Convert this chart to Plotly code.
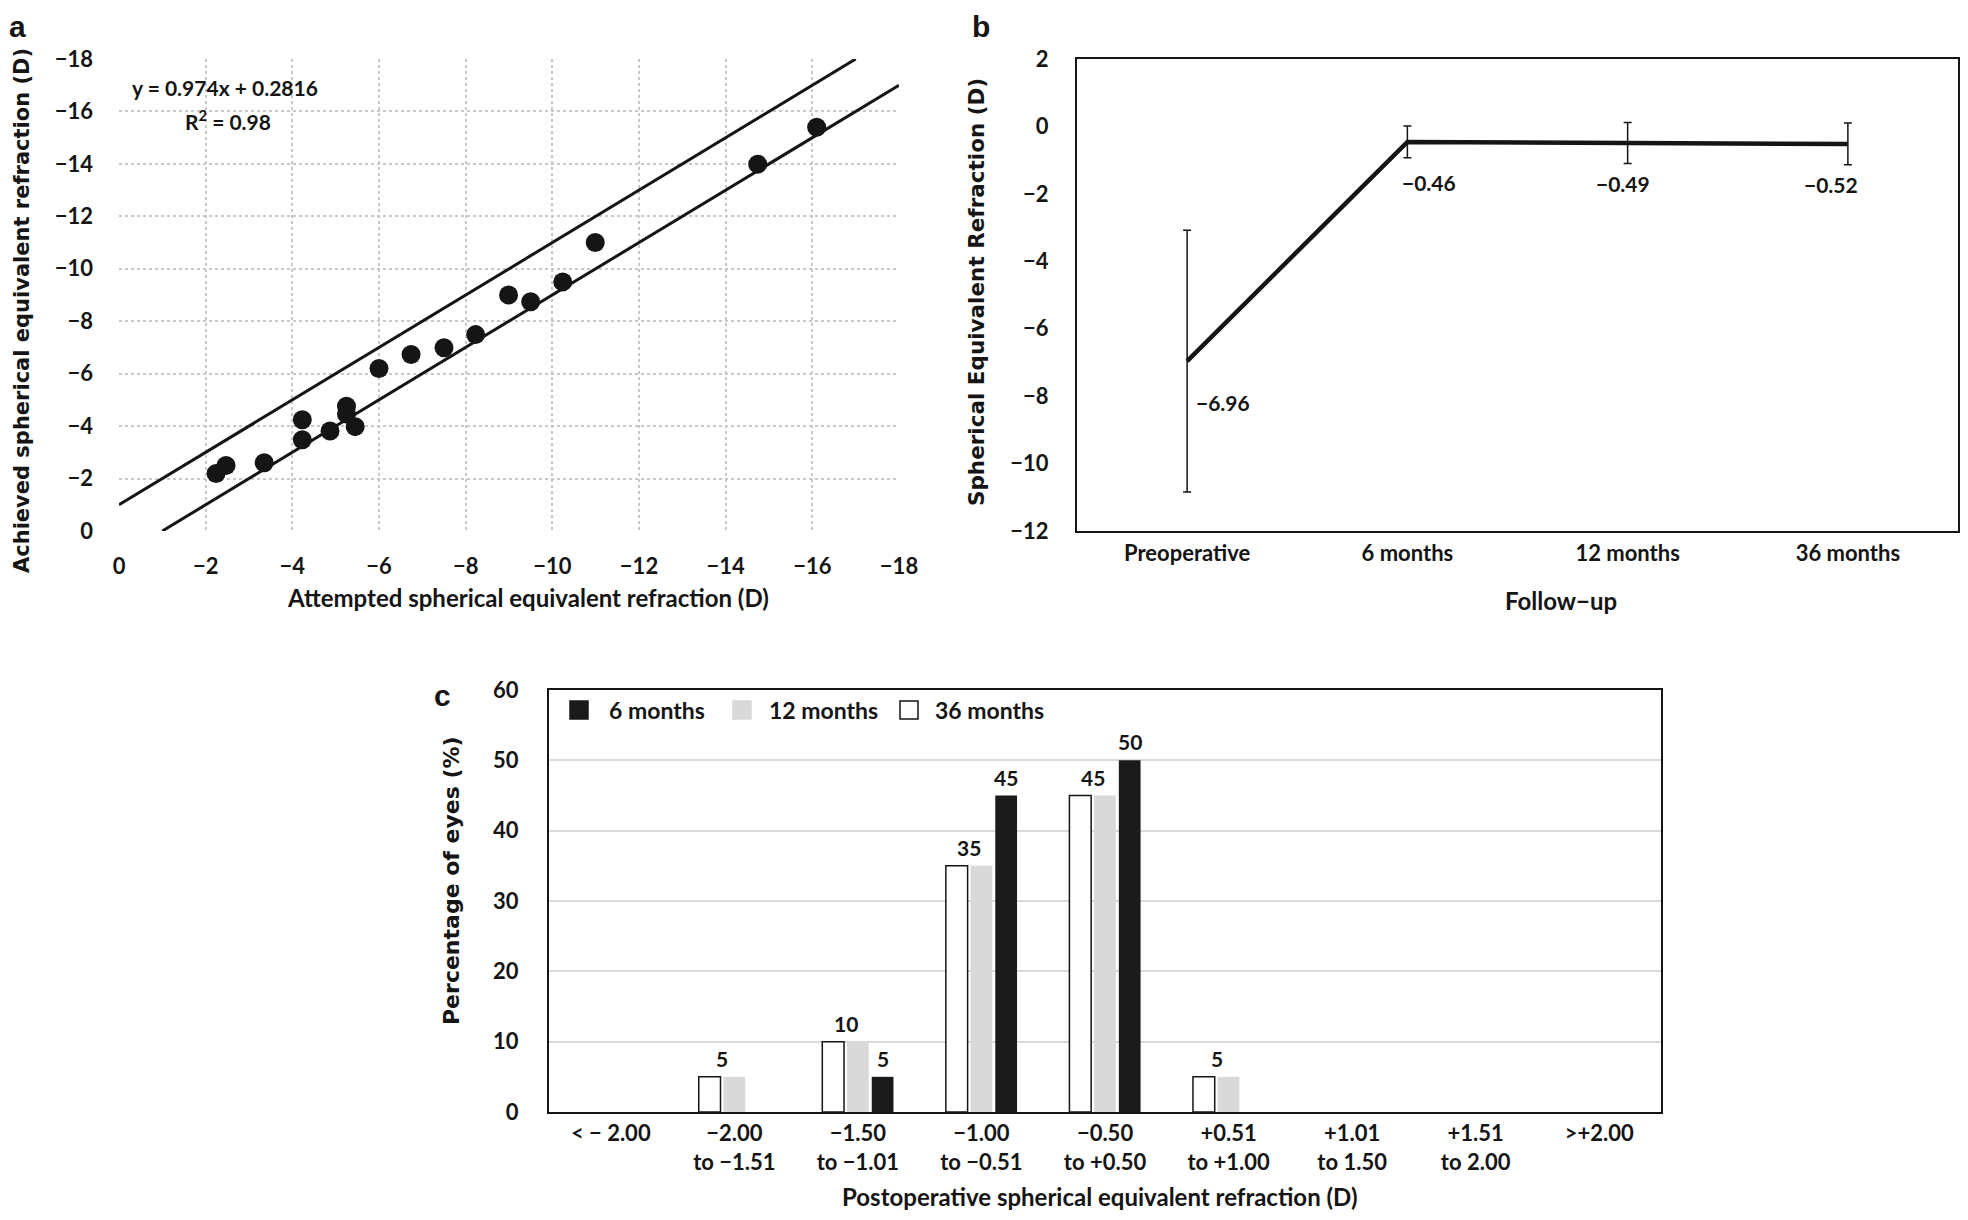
import plotly.graph_objects as go

# --- panel a: attempted vs achieved spherical equivalent (D)
attempted = [-2.24, -2.47, -3.35, -4.23, -4.23, -4.87, -5.25, -5.25, -5.45, -6.0,
             -6.74, -7.5, -8.23, -8.99, -9.5, -10.24, -10.99, -14.74, -16.1]
achieved = [-2.19, -2.5, -2.6, -4.24, -3.48, -3.81, -4.76, -4.46, -3.98, -6.2,
            -6.73, -6.99, -7.49, -9.0, -8.74, -9.5, -11.0, -13.99, -15.4]
# +/- 1 D limit lines
upper_x = [0, -17]
upper_y = [-1, -18]
lower_x = [-1, -18]
lower_y = [0, -17]

# --- panel b: SE over follow-up
followup = ['Preoperative', '6 months', '12 months', '36 months']
se_mean = [-6.96, -0.46, -0.49, -0.52]
se_sd = [3.88, 0.47, 0.61, 0.62]

# --- panel c: distribution of postoperative SE
se_bins = ['< − 2.00', '−2.00<br>to −1.51', '−1.50<br>to −1.01', '−1.00<br>to −0.51',
           '−0.50<br>to +0.50', '+0.51<br>to +1.00', '+1.01<br>to 1.50', '+1.51<br>to 2.00',
           '>+2.00']
pct_36m = [0, 5, 10, 35, 45, 5, 0, 0, 0]
pct_12m = [0, 5, 10, 35, 45, 5, 0, 0, 0]
pct_6m = [0, 0, 5, 45, 50, 0, 0, 0, 0]

# page is shifted by the 8px body margin
W, H = 1952, 1204
def px(x):
    return min(max((x - 8) / W, 0), 1)
def py(y):
    return min(max(1 - (y - 8) / H, 0), 1)

FONT = 'Lato, Open Sans, sans-serif'
WIDE = 'DejaVu Sans, Verdana, sans-serif'
INK = '#151515'
tick = dict(family=FONT, size=22, color=INK, weight='bold')
label_font = dict(family=FONT, size=21, color=INK, weight='bold')
title_font = dict(family=FONT, size=24, color=INK, weight='bold')
wide_title = dict(family=WIDE, size=21.5, color=INK, weight='bold')

fig = go.Figure()

# a
fig.add_trace(go.Scatter(x=upper_x, y=upper_y, mode='lines', line=dict(color=INK, width=3),
                         xaxis='x', yaxis='y', showlegend=False))
fig.add_trace(go.Scatter(x=lower_x, y=lower_y, mode='lines', line=dict(color=INK, width=3),
                         xaxis='x', yaxis='y', showlegend=False))
fig.add_trace(go.Scatter(x=attempted, y=achieved, mode='markers',
                         marker=dict(color=INK, size=19), xaxis='x', yaxis='y', showlegend=False))

# b
fig.add_trace(go.Scatter(x=followup, y=se_mean, mode='lines', line=dict(color=INK, width=4.5),
                         error_y=dict(type='data', array=se_sd, color=INK, thickness=1.5, width=4),
                         xaxis='x2', yaxis='y2', showlegend=False))

# c  (empty bins are left undrawn, as in the original)
bar_colors = {'36 months': 'white', '12 months': '#d9d9d9', '6 months': '#1a1a1a'}
for name, vals in [('36 months', pct_36m), ('12 months', pct_12m), ('6 months', pct_6m)]:
    fig.add_trace(go.Bar(x=se_bins, y=[v if v else None for v in vals], name=name, showlegend=False,
                         marker=dict(color=bar_colors[name],
                                     line=dict(color=INK, width=1.5 if name == '36 months' else 0)),
                         xaxis='x3', yaxis='y3'))

annotations = []
shapes = []

def note(text, x, y, font, angle=0, xanchor='center', yanchor='middle'):
    annotations.append(dict(text=text, x=px(x), y=py(y), xref='paper', yref='paper', showarrow=False,
                            textangle=angle, xanchor=xanchor, yanchor=yanchor, font=font))

# panel letters
letter_font = dict(family='Liberation Sans, Arial', size=30, color=INK, weight='bold')
note('a', 17, 8, letter_font, yanchor='top')
note('b', 981, 8, letter_font, yanchor='top')
note('c', 442, 695, letter_font)

# axis titles
note('Attempted spherical equivalent refraction (D)', 528, 597, title_font)
note('Achieved spherical equivalent refraction (D)', 22, 311, dict(wide_title, size=21), -90)
note('Follow−up', 1561, 600, title_font)
note('Spherical Equivalent Refraction (D)', 976, 292, wide_title, -90)
note('Postoperative spherical equivalent refraction (D)', 1100, 1196, title_font)
note('Percentage of eyes (%)', 451, 881, dict(wide_title, size=22), -90)

# regression text
note('y = 0.974x + 0.2816', 130, 88, label_font, xanchor='left')
note('R<sup>2</sup> = 0.98', 183, 120, label_font, xanchor='left')

# panel b value labels
label_dx = [7, 22, -5, -17]
for i, (cat, v) in enumerate(zip(followup, se_mean)):
    annotations.append(dict(text=f'{v:.2f}'.replace('-', '−'), x=cat, y=v, xref='x2', yref='y2',
                            xanchor='left' if i == 0 else 'center', yanchor='middle',
                            xshift=label_dx[i], yshift=-41, showarrow=False, font=label_font))

# panel c value labels (36/12 month pair share one label)
for cat, v in zip(se_bins, pct_12m):
    if v > 0:
        annotations.append(dict(text=str(v), x=cat, y=v, xref='x3', yref='y3', xshift=-12, yshift=4,
                                xanchor='center', yanchor='bottom', showarrow=False, font=label_font))
for cat, v in zip(se_bins, pct_6m):
    if v > 0:
        annotations.append(dict(text=str(v), x=cat, y=v, xref='x3', yref='y3', xshift=25, yshift=4,
                                xanchor='center', yanchor='bottom', showarrow=False, font=label_font))

# panel c legend
legend_items = [('6 months', 570, 607), ('12 months', 733, 767), ('36 months', 900, 933)]
for name, sx, tx in legend_items:
    shapes.append(dict(type='rect', xref='paper', yref='paper',
                       x0=px(sx), x1=px(sx + 18), y0=py(719), y1=py(701),
                       fillcolor=bar_colors[name],
                       line=dict(color=INK if name == '36 months' else bar_colors[name], width=1.5)))
    note(name, tx, 710, dict(tick, size=23), xanchor='left')

fig.update_layout(
    width=W, height=H, margin=dict(l=0, r=0, t=0, b=0, autoexpand=False),
    paper_bgcolor='white', plot_bgcolor='white', showlegend=False,
    barmode='group', bargap=0.4, bargroupgap=0.12,
    annotations=annotations, shapes=shapes,
    xaxis=dict(domain=[px(119), px(899)], anchor='y', range=[0, -18], dtick=2, tick0=0,
               showgrid=True, gridcolor='#c8c8c8', griddash='dot', gridwidth=1.5, zeroline=False,
               showline=False, tickfont=tick, ticklabelstandoff=20, automargin=False),
    yaxis=dict(domain=[py(531), py(59)], anchor='x', range=[0, -18], dtick=2, tick0=0,
               showgrid=True, gridcolor='#c8c8c8', griddash='dot', gridwidth=1.5, zeroline=False,
               showline=False, tickfont=tick, ticklabelstandoff=25, automargin=False),
    xaxis2=dict(domain=[px(1077), px(1958)], anchor='y2', type='category', categoryarray=followup,
                range=[-0.5, 3.5], showgrid=False, zeroline=False, showline=True, mirror=True,
                linecolor=INK, linewidth=2, tickfont=tick, ticklabelstandoff=2, automargin=False),
    yaxis2=dict(domain=[py(531), py(59)], anchor='x2', range=[-12, 2], dtick=2, showgrid=False,
                zeroline=False, showline=True, mirror=True, linecolor=INK, linewidth=2,
                tickfont=tick, ticklabelstandoff=22, automargin=False),
    xaxis3=dict(domain=[px(549), px(1661)], anchor='y3', type='category', categoryarray=se_bins,
                showgrid=False, zeroline=False, showline=True, mirror=True, linecolor=INK, linewidth=2,
                tickfont=tick, ticklabelstandoff=1, automargin=False),
    yaxis3=dict(domain=[py(1112), py(690)], anchor='x3', range=[0, 60], dtick=10, showgrid=True,
                gridcolor='#d9d9d9', gridwidth=2, zeroline=False, showline=True, mirror=True,
                linecolor=INK, linewidth=2, tickfont=tick, ticklabelstandoff=24, automargin=False),
)

fig.write_html('out.html')
